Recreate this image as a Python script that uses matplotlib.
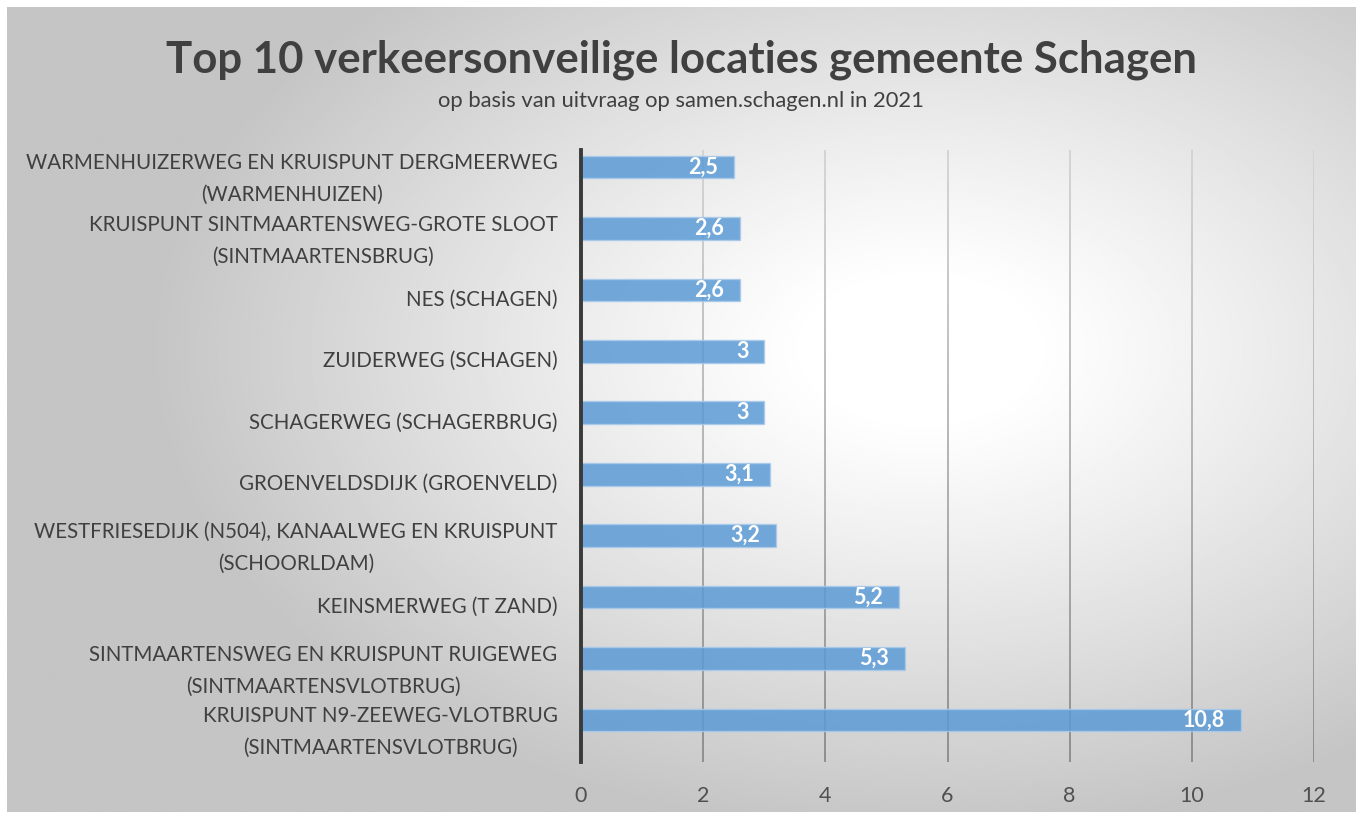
import numpy as np
import matplotlib.pyplot as plt
from matplotlib.collections import LineCollection
from matplotlib.colors import LinearSegmentedColormap

plt.rcParams['font.family'] = ['Lato', 'DejaVu Sans']

locaties = [
    "WARMENHUIZERWEG EN KRUISPUNT DERGMEERWEG\n(WARMENHUIZEN)",
    "KRUISPUNT SINTMAARTENSWEG-GROTE SLOOT\n(SINTMAARTENSBRUG)",
    "NES (SCHAGEN)",
    "ZUIDERWEG (SCHAGEN)",
    "SCHAGERWEG (SCHAGERBRUG)",
    "GROENVELDSDIJK (GROENVELD)",
    "WESTFRIESEDIJK (N504), KANAALWEG EN KRUISPUNT\n(SCHOORLDAM)",
    "KEINSMERWEG (T ZAND)",
    "SINTMAARTENSWEG EN KRUISPUNT RUIGEWEG\n(SINTMAARTENSVLOTBRUG)",
    "KRUISPUNT N9-ZEEWEG-VLOTBRUG\n(SINTMAARTENSVLOTBRUG)",
]
scores = [2.5, 2.6, 2.6, 3, 3, 3.1, 3.2, 5.2, 5.3, 10.8]
xticks = [0, 2, 4, 6, 8, 10, 12]

fig = plt.figure(figsize=(13.62, 8.19), dpi=100)
fig.patch.set_facecolor('white')

# radial gradient background
bg = fig.add_axes([0.005, 0.008, 0.99, 0.984], zorder=0)
yy, xx = np.mgrid[0:400, 0:680]
cx, cy = 460, 170
r = np.sqrt(((xx - cx) / 680) ** 2 + ((yy - cy) / 420) ** 2)
val = np.clip(1.0 - 0.5 * np.maximum(r - 0.08, 0) ** 1.1, 0.77, 1.0)
bg.imshow(val, cmap='gray', vmin=0, vmax=1, aspect='auto', interpolation='bilinear')
bg.axis('off')

ax = fig.add_axes([581 / 1362, 1 - 762 / 819, (1314 - 581) / 1362, 612 / 819], zorder=1)
ax.patch.set_alpha(0)

y = np.arange(len(scores))
ax.set_ylim(9 + (762 - 720) / 61.4, -(167 - 150) / 61.4)
ax.set_xlim(0, 12)

# gridlines with a vertical gradient (light top, darker bottom)
gcmap = LinearSegmentedColormap.from_list('g', ['#d2d2d2', '#8a8a8a'])
y0, y1 = ax.get_ylim()[1], ax.get_ylim()[0]
ys = np.linspace(y0, y1, 60)
for xt in xticks[1:]:
    segs = [[(xt, ys[i]), (xt, ys[i + 1])] for i in range(len(ys) - 1)]
    cols = gcmap(np.linspace(0, 1, len(segs)))
    ax.add_collection(LineCollection(segs, colors=cols, linewidths=1.3, zorder=1))

ax.barh(y, scores, height=0.37, color='#5b9bd5', alpha=0.85, edgecolor='#a9caeb',
        linewidth=1, zorder=3)
for yi, s in zip(y, scores):
    lab = ('%g' % s).replace('.', ',')
    ax.text(s - 0.26, yi, lab, ha='right', va='center', color='white',
            fontsize=15.5, fontweight='bold', zorder=4)

# category labels: block right-aligned, lines centered, a bit below the bar
for yi, lab in zip(y, locaties):
    n = lab.count('\n') + 1
    ax.text(-0.032, yi + (0.2 if n == 2 else 0.16), lab, transform=ax.get_yaxis_transform(),
            ha='right', va='center', multialignment='center', fontsize=14.8,
            color='#404040', linespacing=1.75)

ax.set_xticks(xticks)
ax.set_yticks([])
ax.tick_params(axis='x', length=0, labelsize=15.5, labelcolor='#505050', pad=17)
for sp in ['top', 'right', 'bottom']:
    ax.spines[sp].set_visible(False)
ax.spines['left'].set_color('#3a3a3a')
ax.spines['left'].set_linewidth(2.8)
ax.spines['left'].set_zorder(5)

fig.text(0.5, 1 - 60 / 819, 'Top 10 verkeersonveilige locaties gemeente Schagen',
         ha='center', va='center', fontsize=31.5, fontweight='bold', color='#404040')
fig.text(0.5, 1 - 101 / 819, 'op basis van uitvraag op samen.schagen.nl in 2021',
         ha='center', va='center', fontsize=15.8, color='#404040')

fig.savefig('out.png', dpi=100)
